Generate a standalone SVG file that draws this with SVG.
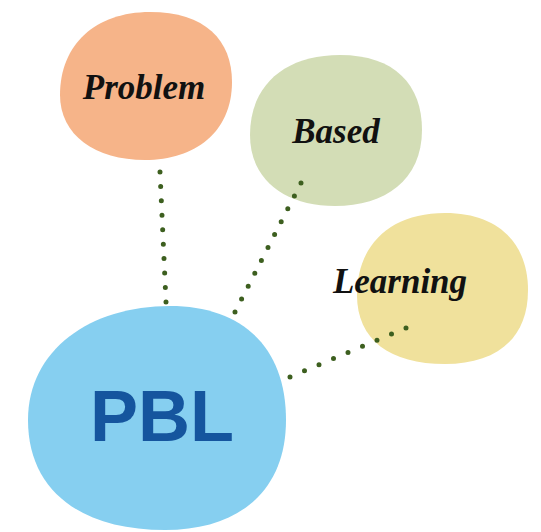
<svg xmlns="http://www.w3.org/2000/svg" width="541" height="532" viewBox="0 0 541 532">
<style>
.script{font-family:"Liberation Serif","DejaVu Serif",serif;font-style:italic;font-weight:bold;font-size:35px;fill:#111;text-anchor:middle}
.dots{fill:none;stroke:#3d5f1f;stroke-width:5;stroke-linecap:round}
</style>
<rect width="541" height="532" fill="#fff"/>
<g id="problem">
<path d="M150,12 C205,12 232,40 232,82 C232,132 195,160 145,160 C95,160 60,135 60,95 C60,45 95,12 150,12 Z" fill="#f6b489"/>
<text class="script" x="144" y="99">Problem</text>
</g>
<g id="based">
<path d="M340,55 C395,55 422,85 422,130 C422,180 385,206 335,206 C285,206 250,180 250,135 C250,85 285,55 340,55 Z" fill="#d3ddb6"/>
<text class="script" x="336" y="143">Based</text>
</g>
<g id="learning">
<path d="M445,213 C500,213 528,245 528,290 C528,340 495,364 445,364 C390,364 357,340 357,295 C357,245 390,213 445,213 Z" fill="#f0e19c"/>
<text class="script" x="400" y="293">Learning</text>
</g>
<g id="pbl">
<path d="M170,306 C240,306 286,345 286,420 C286,490 240,530 165,530 C80,530 28,490 28,420 C28,350 90,306 170,306 Z" fill="#86cff0"/>
<text x="162" y="441" font-family="Liberation Sans, Arial, sans-serif" font-weight="bold" font-size="72" fill="#15559e" text-anchor="middle">PBL</text>
</g>
<g id="connectors">
<line class="dots" x1="160" y1="172" x2="166" y2="302" stroke-dasharray="0 14.45"/>
<line class="dots" x1="301" y1="183" x2="235" y2="312" stroke-dasharray="0 14.49"/>
<line class="dots" x1="406" y1="328" x2="290" y2="377" stroke-dasharray="0 15.74"/>
</g>
</svg>
